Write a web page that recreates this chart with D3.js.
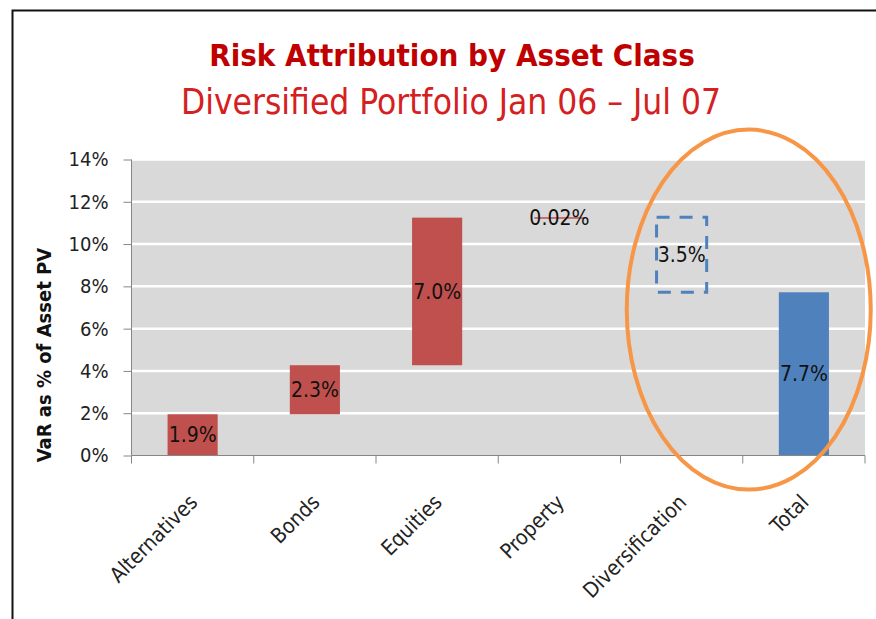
<!DOCTYPE html>
<meta charset="utf-8">
<style>
body { margin: 0; background: #fff; }
svg { display: block; }
text { font-family: "DejaVu Sans Condensed", "Liberation Sans Narrow", "Open Sans", sans-serif; }
.axis path, .axis line { stroke: #868686; }
.axis text { font-size: 20px; fill: #222; }
.x.axis text { font-size: 21px; }
.grid line { stroke: #fff; stroke-width: 2.5; }
</style>
<script src="https://d3js.org/d3.v7.min.js"></script>
<body>
<script>

// waterfall data, % of asset PV
var categories = ["Alternatives", "Bonds", "Equities", "Property", "Diversification", "Total"];
var values = [1.95, 2.32, 6.98, 0.02, -3.55, 7.72];
var valueLabels = ["1.9%", "2.3%", "7.0%", "0.02%", "3.5%", "7.7%"];
var isTotal = [false, false, false, false, false, true];
var yTicks = [0, 2, 4, 6, 8, 10, 12, 14];

var W = 876, H = 619;
var margin = {top: 159.5, right: 11, bottom: 163.5, left: 131.5},
    width = W - margin.left - margin.right,
    height = H - margin.top - margin.bottom;

var svg = d3.select("body").append("svg")
    .attr("width", W)
    .attr("height", H);

// outer frame
svg.append("rect")
    .attr("x", 12.5).attr("y", 10.5)
    .attr("width", W).attr("height", H)
    .attr("fill", "none")
    .attr("stroke", "#111")
    .attr("stroke-width", 2);

svg.append("text")
    .attr("x", 452).attr("y", 66)
    .attr("text-anchor", "middle")
    .attr("font-size", 31)
    .attr("font-weight", "bold")
    .attr("fill", "#c00000")
    .text("Risk Attribution  by Asset Class");

svg.append("text")
    .attr("x", 451).attr("y", 114)
    .attr("text-anchor", "middle")
    .attr("font-size", 35)
    .attr("fill", "#d42020")
    .text("Diversified Portfolio Jan 06 \u2013 Jul 07");

var g = svg.append("g")
    .attr("transform", "translate(" + margin.left + "," + margin.top + ")");

var x = d3.scaleBand().domain(categories).range([0, width]);
var y = d3.scaleLinear().domain([0, 14]).range([height, 0]);

// build waterfall segments
var run = 0;
var bars = categories.map(function(c, i) {
  var lo, hi;
  if (isTotal[i]) { lo = 0; hi = values[i]; }
  else { lo = Math.min(run, run + values[i]); hi = Math.max(run, run + values[i]); run += values[i]; }
  return {cat: c, lo: lo, hi: hi, label: valueLabels[i], total: isTotal[i], neg: values[i] < 0};
});

g.append("rect")
    .attr("width", width).attr("height", height)
    .attr("fill", "#d9d9d9");

g.append("g")
    .attr("class", "grid")
    .selectAll("line")
    .data(yTicks.slice(1))
    .enter().append("line")
    .attr("x1", 0).attr("x2", width)
    .attr("y1", function(d) { return y(d); })
    .attr("y2", function(d) { return y(d); });

var bw = x.bandwidth() * 0.41;

var bar = g.selectAll(".bar")
    .data(bars)
    .enter().append("g")
    .attr("class", "bar");

bar.append("rect")
    .attr("x", function(d) { return x(d.cat) + (x.bandwidth() - bw) / 2; })
    .attr("width", bw)
    .attr("y", function(d) { return y(d.hi); })
    .attr("height", function(d) { return Math.max(1.5, y(d.lo) - y(d.hi)); })
    .attr("fill", function(d) { return d.neg ? "none" : (d.total ? "#4f81bd" : "#c0504d"); })
    .attr("stroke", function(d) { return d.neg ? "#4f81bd" : "none"; })
    .attr("stroke-width", 3)
    .attr("stroke-dasharray", function(d) { return d.neg ? "13,10" : null; });

bar.append("text")
    .attr("x", function(d) { return x(d.cat) + x.bandwidth() / 2; })
    .attr("y", function(d) { return (y(d.lo) + y(d.hi)) / 2; })
    .attr("dy", "0.36em")
    .attr("text-anchor", "middle")
    .attr("font-size", 21)
    .attr("fill", "#111")
    .text(function(d) { return d.label; });

// y axis
var yAxis = d3.axisLeft(y)
    .tickValues(yTicks)
    .tickFormat(function(d) { return d + "%"; })
    .tickSize(8)
    .tickPadding(15);

g.append("g")
    .attr("class", "y axis")
    .call(yAxis)
    .call(function(s) { s.select(".domain").attr("d", "M0," + height + "V0"); });

// x axis: ticks at band edges
var xa = g.append("g")
    .attr("class", "x axis")
    .attr("transform", "translate(0," + height + ")");

xa.append("line").attr("x1", 0).attr("x2", width);
xa.selectAll(".edge")
    .data(d3.range(categories.length + 1))
    .enter().append("line")
    .attr("class", "edge")
    .attr("x1", function(i) { return i * x.step(); })
    .attr("x2", function(i) { return i * x.step(); })
    .attr("y2", 8);

xa.selectAll(".lab")
    .data(categories)
    .enter().append("text")
    .attr("class", "lab")
    .attr("text-anchor", "end")
    .attr("transform", function(d) {
      return "translate(" + (x(d) + x.bandwidth() / 2 + 6) + ",48) rotate(-45)";
    })
    .text(function(d) { return d; });

svg.append("text")
    .attr("transform", "translate(51,355) rotate(-90)")
    .attr("text-anchor", "middle")
    .attr("font-size", 20)
    .attr("font-weight", "bold")
    .attr("fill", "#111")
    .text("VaR as % of Asset PV");

// annotation around diversification and total
svg.append("ellipse")
    .attr("cx", margin.left + x("Total") + 6)
    .attr("cy", margin.top + y(6.9))
    .attr("rx", 122)
    .attr("ry", 180)
    .attr("fill", "none")
    .attr("stroke", "#f79646")
    .attr("stroke-width", 4);

</script>
</body>
